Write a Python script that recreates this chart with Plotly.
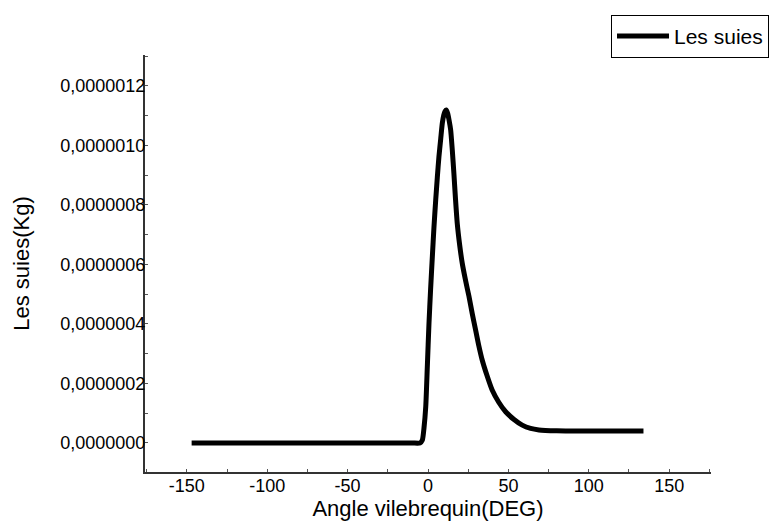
import plotly.graph_objects as go

# Crank angle (deg) and soot mass (kg)
angle = [-147, -100, -50, -10, -5, -3.5, -2.5, -1.4, -0.4, 0.6, 1.6, 2.7, 3.7, 4.8, 5.8, 6.8, 7.9, 8.9,
         9.8, 10.6, 11.4, 12.2, 13.1, 14.1, 15.1, 16.1, 17.1, 18.2, 19.7, 21.3, 23.4, 25.5, 27.5,
         29.6, 31.6, 33.7, 36.8, 39.9, 44.0, 48.3, 53.5, 58.6, 63.8, 69, 80, 95, 110, 134]
soot = [0, 0, 0, 0, 0, 0.01e-6, 0.05e-6, 0.122e-6, 0.26e-6, 0.40e-6, 0.515e-6, 0.626e-6, 0.725e-6,
        0.817e-6, 0.893e-6, 0.962e-6, 1.022e-6, 1.075e-6,
        1.102e-6, 1.115e-6, 1.119e-6, 1.108e-6, 1.085e-6, 1.052e-6, 0.985e-6, 0.906e-6, 0.82e-6,
        0.738e-6, 0.665e-6, 0.604e-6, 0.545e-6, 0.492e-6, 0.435e-6,
        0.380e-6, 0.327e-6, 0.279e-6, 0.225e-6, 0.178e-6, 0.137e-6, 0.105e-6, 0.079e-6, 0.060e-6,
        0.049e-6, 0.044e-6, 0.041e-6, 0.040e-6, 0.040e-6, 0.040e-6]

x_ticks = [-150, -100, -50, 0, 50, 100, 150]
x_tick_labels = ["-150", "-100", "-50", "0", "50", "100", "150"]
y_ticks = [0, 0.2e-6, 0.4e-6, 0.6e-6, 0.8e-6, 1.0e-6, 1.2e-6]

FONT = "Liberation Sans, Arial, sans-serif"

fig = go.Figure()
fig.add_trace(go.Scatter(
    x=angle, y=soot, mode="lines", name="Les suies",
    line=dict(color="black", width=5, shape="spline", smoothing=0.6),
))

fig.update_layout(
    width=771, height=530,
    margin=dict(l=145, r=60, t=55, b=58, autoexpand=False),
    paper_bgcolor="white", plot_bgcolor="white",
    separators=", ",
    font=dict(family=FONT, color="black", size=18),
    showlegend=True,
    legend=dict(
        x=1.1025, y=1.096, xanchor="right", yanchor="top",
        bordercolor="black", borderwidth=1, bgcolor="white",
        font=dict(family=FONT, size=21, color="black"),
        itemwidth=52, tracegroupgap=0,
    ),
)

fig.update_xaxes(
    range=[-176, 176], tickvals=x_ticks, ticktext=x_tick_labels,
    showline=True, linecolor="#333333", linewidth=2, mirror=False,
    showgrid=False, zeroline=False,
    ticks="inside", ticklen=3, tickcolor="#555555",
    minor=dict(ticks="inside", ticklen=3, tickcolor="#555555", dtick=25, tick0=0),
    tickfont=dict(size=18),
    ticklabelstandoff=-4,
    title=dict(text="Angle vilebrequin(DEG)", font=dict(size=22), standoff=6),
    automargin=False,
)
fig.update_yaxes(
    range=[-0.0975e-6, 1.304e-6], tickvals=y_ticks, tickformat=".7f",
    showline=True, linecolor="#333333", linewidth=2, mirror=False,
    showgrid=False, zeroline=False,
    ticks="inside", ticklen=3, tickcolor="#555555",
    minor=dict(ticks="inside", ticklen=3, tickcolor="#555555", dtick=0.1e-6, tick0=0),
    tickfont=dict(size=18),
    ticklabelstandoff=-6,
    title=dict(text="Les suies(Kg)", font=dict(size=22), standoff=25),
    automargin=False,
)

fig.write_html("out.html")
